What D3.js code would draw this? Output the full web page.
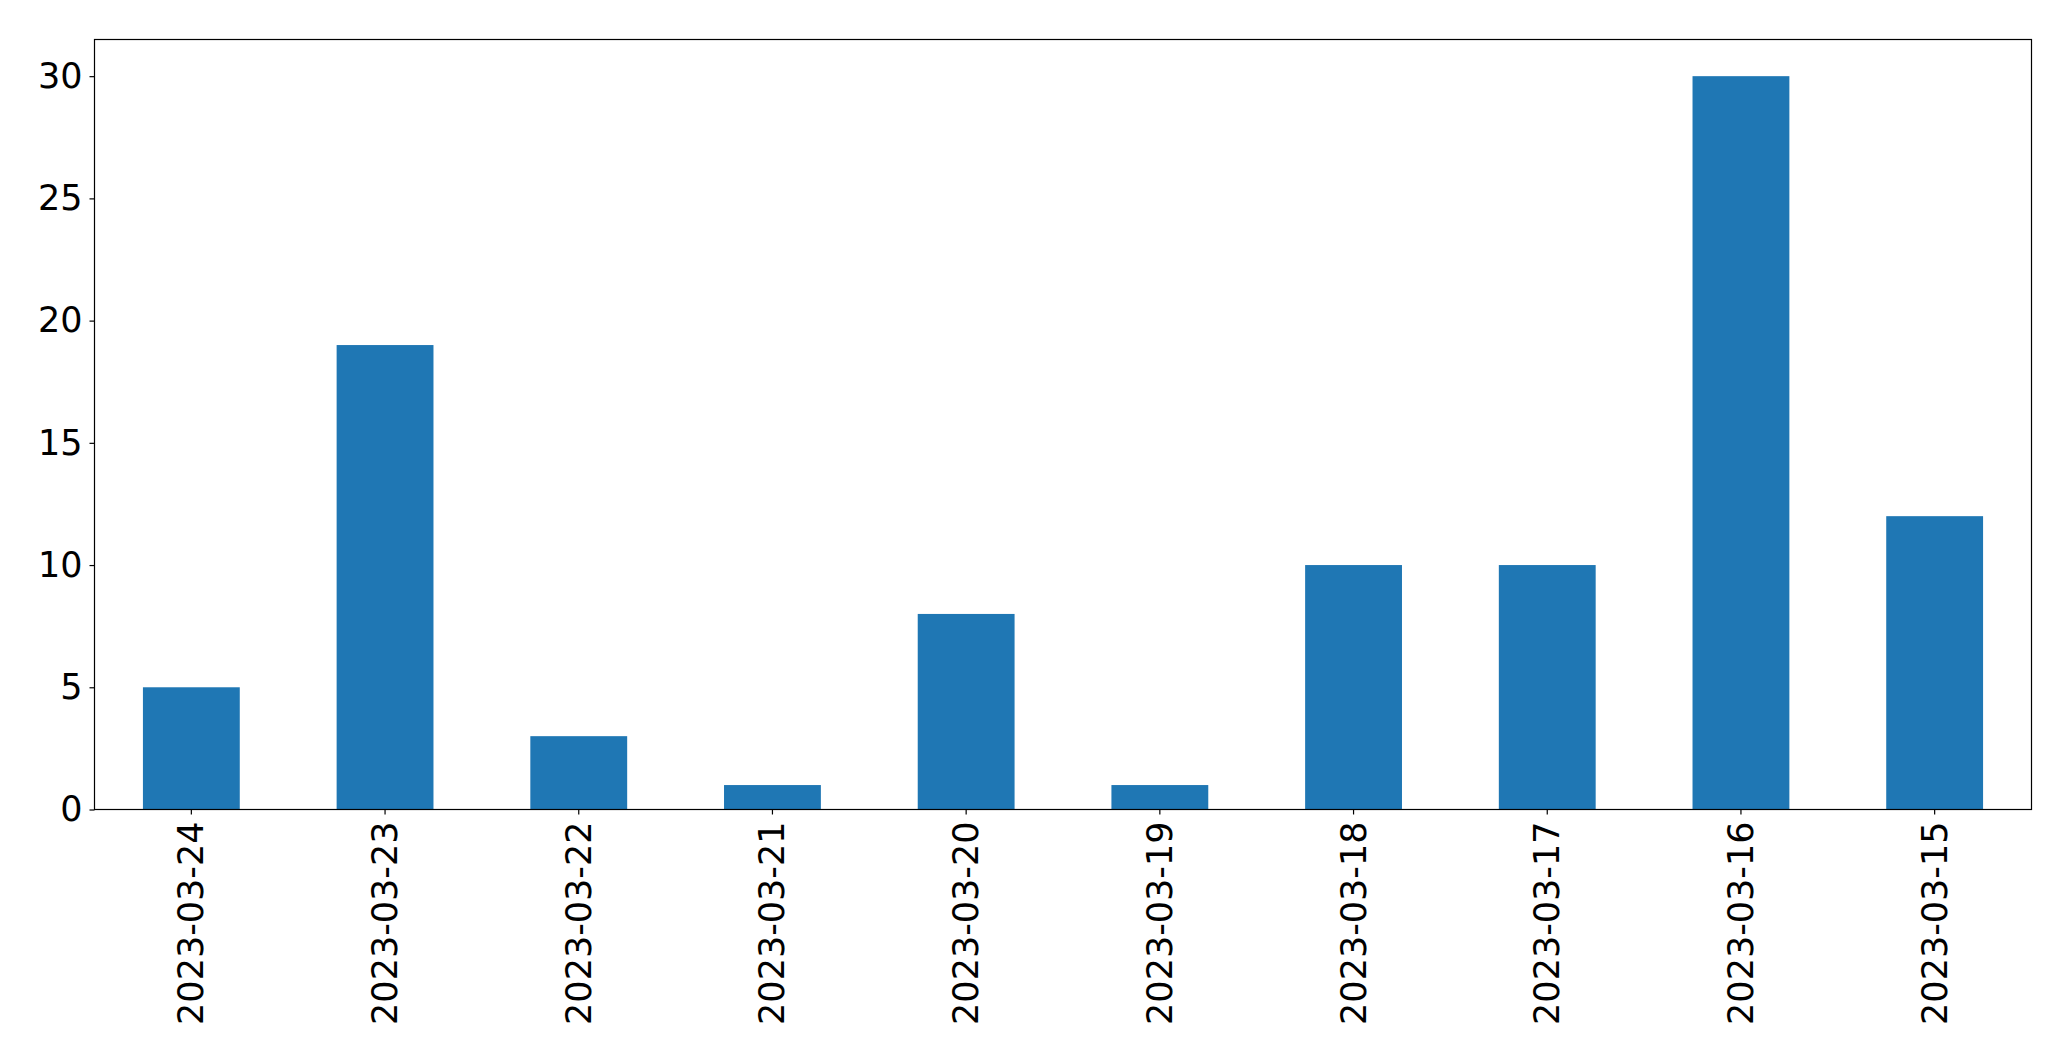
<!DOCTYPE html>
<html>
<head>
<meta charset="utf-8">
<script src="https://cdn.jsdelivr.net/npm/d3@7"></script>
<style>
  html, body { margin: 0; padding: 0; background: #fff; }
  svg { display: block; }
</style>
</head>
<body>
<svg id="chart" width="2071" height="1061"></svg>
<script>
const categories = ["2023-03-24","2023-03-23","2023-03-22","2023-03-21","2023-03-20","2023-03-19","2023-03-18","2023-03-17","2023-03-16","2023-03-15"];
const values = [5, 19, 3, 1, 8, 1, 10, 10, 30, 12];
const yTicks = [0, 5, 10, 15, 20, 25, 30];

const W = 2071, H = 1061;
const margin = {left: 94.5, right: 2031.5, top: 39.5, bottom: 809.5};
const svg = d3.select("#chart");
const font = "'DejaVu Sans', sans-serif";
const fs = 35;

const x = d3.scaleBand().domain(categories).range([margin.left, margin.right]).paddingInner(0.5).paddingOuter(0.25);
const y = d3.scaleLinear().domain([0, 31.5]).range([margin.bottom, margin.top]);

svg.append("g").selectAll("rect").data(values).join("rect")
  .attr("x", (d, i) => x(categories[i]))
  .attr("width", x.bandwidth())
  .attr("y", d => y(d))
  .attr("height", d => y(0) - y(d))
  .attr("fill", "#1f77b4");

const yAxis = d3.axisLeft(y).tickValues(yTicks).tickSize(5).tickPadding(7).tickFormat(d3.format("d"));
const gy = svg.append("g").attr("transform", `translate(${margin.left},0)`).call(yAxis);
gy.select(".domain").remove();
gy.selectAll("text").attr("font-family", font).attr("font-size", fs).attr("fill", "#000");
gy.selectAll("line").attr("stroke", "#000").attr("stroke-width", 1.2);

const xAxis = d3.axisBottom(x).tickSize(5).tickPadding(0);
const gx = svg.append("g").attr("transform", `translate(0,${margin.bottom})`).call(xAxis);
gx.select(".domain").remove();
gx.selectAll("line").attr("stroke", "#000").attr("stroke-width", 1.2);
gx.selectAll("text")
  .attr("font-family", font).attr("font-size", fs).attr("fill", "#000")
  .attr("text-anchor", "end")
  .attr("dy", null)
  .attr("dominant-baseline", "central")
  .attr("transform", "translate(0,12) rotate(-90)")
  .attr("x", 0).attr("y", 0);

svg.append("rect")
  .attr("x", margin.left).attr("y", margin.top)
  .attr("width", margin.right - margin.left).attr("height", margin.bottom - margin.top)
  .attr("fill", "none").attr("stroke", "#000").attr("stroke-width", 1.2);
</script>
</body>
</html>
